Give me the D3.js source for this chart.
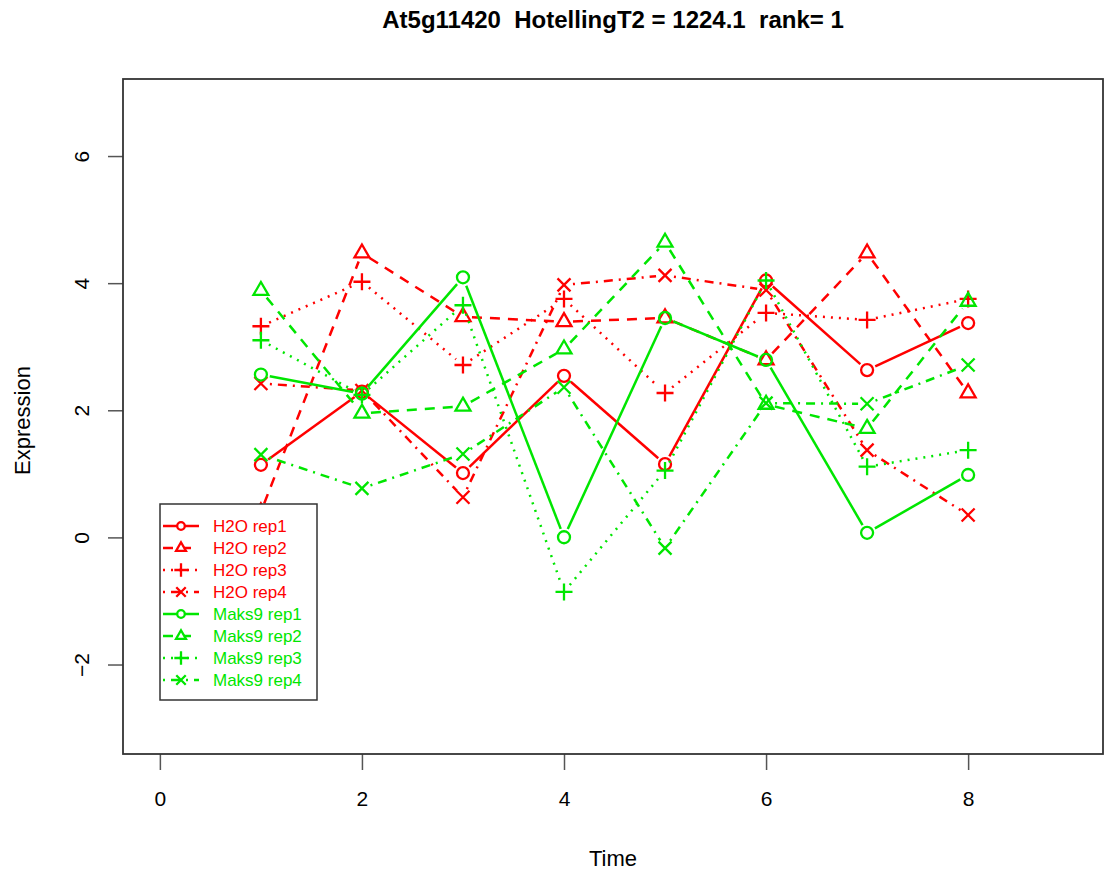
<!DOCTYPE html>
<html>
<head>
<meta charset="utf-8">
<script src="https://cdn.jsdelivr.net/npm/d3@7"></script>
<style>
  body { margin: 0; background: #fff; }
  svg text { font-family: "Liberation Sans", Arial, Helvetica, sans-serif; }
</style>
</head>
<body>
<div id="chart"></div>
<script>
// Data
const times = [1, 2, 3, 4, 5, 6, 7, 8];
const seriesNames = ["H2O rep1", "H2O rep2", "H2O rep3", "H2O rep4",
                     "Maks9 rep1", "Maks9 rep2", "Maks9 rep3", "Maks9 rep4"];
const h2oRep1 = [1.15, 2.30, 1.02, 2.55, 1.16, 4.05, 2.64, 3.38];
const h2oRep2 = [0.41, 4.48, 3.48, 3.40, 3.46, 2.80, 4.48, 2.28];
const h2oRep3 = [3.33, 4.03, 2.72, 3.76, 2.28, 3.54, 3.43, 3.76];
const h2oRep4 = [2.43, 2.32, 0.64, 3.98, 4.13, 3.90, 1.38, 0.36];
const maksRep1 = [2.57, 2.27, 4.10, 0.01, 3.46, 2.80, 0.08, 0.99];
const maksRep2 = [3.89, 1.96, 2.07, 2.97, 4.65, 2.10, 1.72, 3.72];
const maksRep3 = [3.11, 2.25, 3.66, -0.85, 1.06, 4.05, 1.12, 1.38];
const maksRep4 = [1.31, 0.78, 1.32, 2.37, -0.16, 2.12, 2.11, 2.72];
const xTicks = [0, 2, 4, 6, 8];
const yTicks = [-2, 0, 2, 4, 6];

const values = [h2oRep1, h2oRep2, h2oRep3, h2oRep4, maksRep1, maksRep2, maksRep3, maksRep4];

// Styles
const red = "#ff0000", green = "#00e600";
const colors = [red, red, red, red, green, green, green, green];
const dashes = [null, "10,8", "2,6", "2,6,9,6", null, "10,8", "2,6", "2,6,9,6"];
const shapes = [d3.symbolCircle, d3.symbolTriangle2, d3.symbolPlus, d3.symbolTimes];
const shapeSize = [113, 160, 96, 112];
const legendSize = [45, 70, 60, 60];

const W = 1104, H = 871;
const box = {left: 123, right: 1103, top: 79, bottom: 754};

const svg = d3.select("#chart").append("svg")
    .attr("width", W).attr("height", H);

const x = d3.scaleLinear().domain([-0.365, 9.335]).range([box.left, box.right]);
const y = d3.scaleLinear().domain([-3.40, 7.22]).range([box.bottom, box.top]);

// Title
svg.append("text")
    .attr("x", (box.left + box.right) / 2).attr("y", 28)
    .attr("text-anchor", "middle")
    .style("font-size", "24px").style("font-weight", "bold")
    .style("white-space", "pre")
    .text("At5g11420  HotellingT2 = 1224.1  rank= 1");

// Axes
const xAxis = svg.append("g")
    .attr("transform", `translate(0,${box.bottom})`)
    .call(d3.axisBottom(x).tickValues(xTicks).tickSize(16).tickSizeOuter(0));
const yAxis = svg.append("g")
    .attr("transform", `translate(${box.left},0)`)
    .call(d3.axisLeft(y).tickValues(yTicks).tickSize(15).tickSizeOuter(0));
xAxis.select(".domain").remove();
yAxis.select(".domain").remove();
svg.selectAll(".tick line").attr("stroke", "#555").attr("stroke-width", 1.5);
xAxis.selectAll("text").style("font-size", "21px").attr("fill", "#000")
    .attr("y", 52).attr("dy", 0);
yAxis.selectAll(".tick").attr("transform", null);
yAxis.selectAll(".tick line").attr("transform", d => `translate(0,${y(d)})`);
yAxis.selectAll("text").style("font-size", "21px").attr("fill", "#000")
    .attr("x", 0).attr("y", 0).attr("dy", 0)
    .attr("transform", d => `translate(-42,${y(d)}) rotate(-90) translate(0,7.5)`)
    .style("text-anchor", "middle");

// Axis titles
svg.append("text")
    .attr("x", (box.left + box.right) / 2).attr("y", 866)
    .attr("text-anchor", "middle").style("font-size", "22px")
    .text("Time");
svg.append("text")
    .attr("transform", `translate(30,${(box.top + box.bottom) / 2 + 4}) rotate(-90)`)
    .attr("text-anchor", "middle").style("font-size", "22px")
    .text("Expression");

// Plot box
svg.append("rect")
    .attr("x", box.left).attr("y", box.top)
    .attr("width", box.right - box.left).attr("height", box.bottom - box.top)
    .attr("fill", "none").attr("stroke", "#333").attr("stroke-width", 1.8);

// Series: lines with gaps around points (R type = "b")
const gap = 9;
values.forEach((vals, i) => {
    const g = svg.append("g");
    const pts = times.map((t, k) => [x(t), y(vals[k])]);
    for (let k = 0; k < pts.length - 1; k++) {
        const [x1, y1] = pts[k], [x2, y2] = pts[k + 1];
        const len = Math.hypot(x2 - x1, y2 - y1);
        if (len <= 2 * gap) continue;
        const ux = (x2 - x1) / len, uy = (y2 - y1) / len;
        g.append("line")
            .attr("x1", x1 + ux * gap).attr("y1", y1 + uy * gap)
            .attr("x2", x2 - ux * gap).attr("y2", y2 - uy * gap)
            .attr("stroke", colors[i]).attr("stroke-width", 2.5)
            .attr("stroke-dasharray", dashes[i]);
    }
    g.selectAll("path")
        .data(pts)
        .enter().append("path")
        .attr("transform", d => `translate(${d[0]},${d[1]})`)
        .attr("d", d3.symbol().type(shapes[i % 4]).size(shapeSize[i % 4]))
        .attr("fill", "none").attr("stroke", colors[i]).attr("stroke-width", 2.3);
});

// Legend
const leg = {x: 160, y: 504, w: 157, h: 196, row: 22};
svg.append("rect")
    .attr("x", leg.x).attr("y", leg.y).attr("width", leg.w).attr("height", leg.h)
    .attr("fill", "#fff").attr("stroke", "#333").attr("stroke-width", 1.5);
seriesNames.forEach((name, i) => {
    const ly = leg.y + 22 + i * leg.row;
    svg.append("line")
        .attr("x1", leg.x + 3).attr("x2", leg.x + 39)
        .attr("y1", ly).attr("y2", ly)
        .attr("stroke", colors[i]).attr("stroke-width", 2.5)
        .attr("stroke-dasharray", dashes[i]);
    svg.append("path")
        .attr("transform", `translate(${leg.x + 21},${ly})`)
        .attr("d", d3.symbol().type(shapes[i % 4]).size(legendSize[i % 4]))
        .attr("fill", "#fff").attr("stroke", colors[i]).attr("stroke-width", 2.3);
    svg.append("text")
        .attr("x", leg.x + 53).attr("y", ly + 6)
        .style("font-size", "17px").attr("fill", colors[i])
        .text(name);
});
</script>
</body>
</html>
